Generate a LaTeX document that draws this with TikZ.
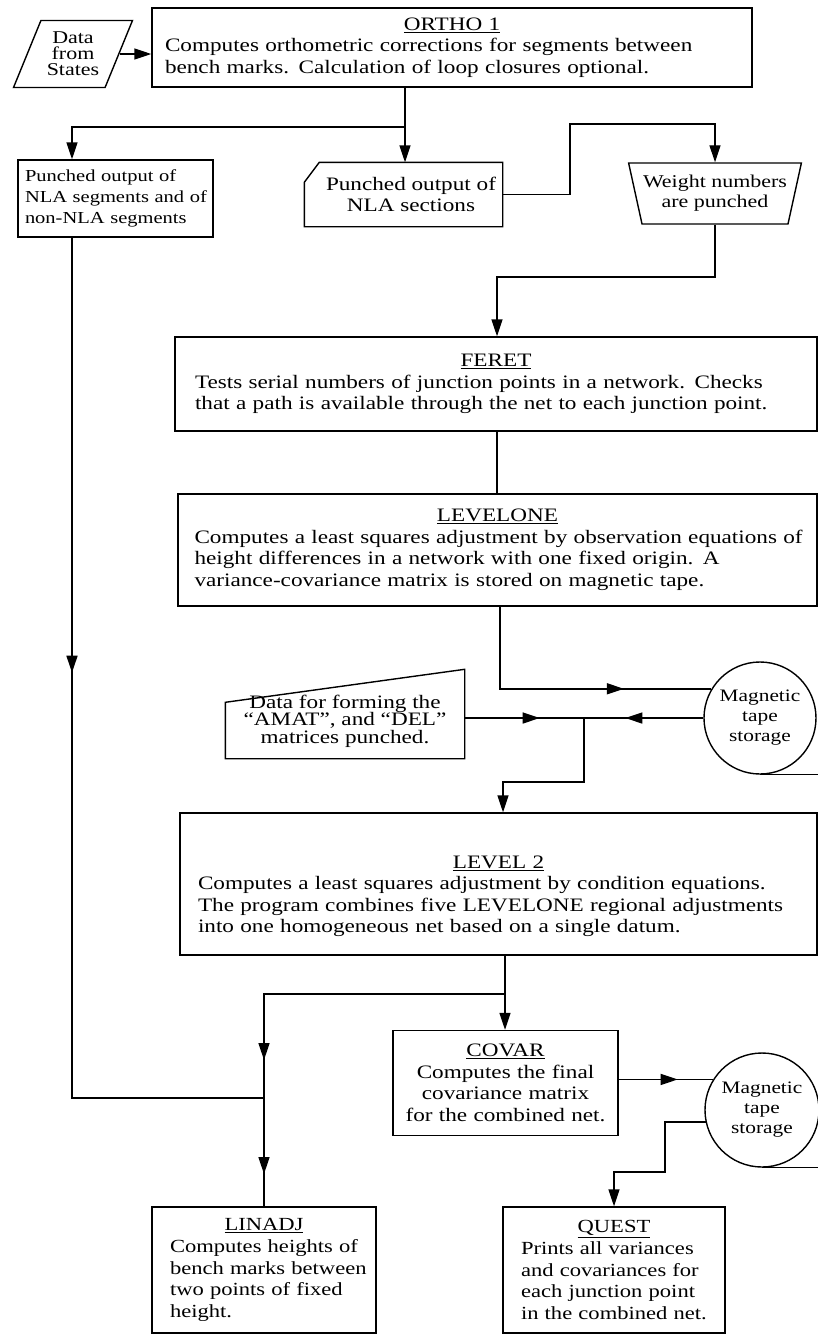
\documentclass[tikz,border=0pt]{standalone}
\usepackage{fontspec}
\setmainfont{Liberation Serif}[FakeStretch=1.22]
\usetikzlibrary{arrows.meta,shapes.geometric,decorations.markings}

\newcommand{\progname}[2][0pt]{{\centering\rule{0pt}{#1}\underline{#2}\par}}

\tikzset{flowtip/.tip={Triangle[length=17pt,width=11pt]}}

\begin{document}
\begin{tikzpicture}[
  x=1pt, y=-1pt, line width=1.4pt,
  font=\fontsize{19}{21.5}\selectfont,
  prog/.style={draw, align=left, inner sep=0pt},
  lowprog/.style={prog, font=\fontsize{18.5}{21.7}\selectfont},
  tape/.style={draw, circle, inner sep=0pt, align=center, font=\fontsize{17.5}{20}\selectfont},
  arr/.style={-flowtip},
  arrowat/.style={postaction={decorate, decoration={markings, mark=at position #1 with {\arrow{flowtip}}}}}
]
\useasboundingbox (0,0) rectangle (818,1334);

% input and first program
\node[draw, trapezium, trapezium left angle=63, trapezium right angle=117, trapezium stretches=true,
  minimum width=120pt, minimum height=67pt, inner sep=0pt, align=center,
  font=\fontsize{18}{16}\selectfont] (data) at (73,54) {Data\\from\\States};
\node[prog, minimum width=600pt, minimum height=79pt, text width=590pt] (ortho) at (452,47.5)
  {\progname{ORTHO 1}\leftskip=8pt Computes orthometric corrections for segments between\par
   bench marks.  Calculation of loop closures optional.\par};

% punched outputs
\node[prog, font=\fontsize{16.8}{21}\selectfont, minimum width=195pt, minimum height=77pt, text width=193pt] (lbox) at (115.5,198.5)
  {\leftskip=6pt Punched output of\par NLA segments and of\par non-NLA segments\par};
\node[align=center, inner sep=0pt, minimum width=182pt, minimum height=63pt] (card) at (411,194.5)
  {Punched output of\\NLA sections};
\draw (card.north west) -- (card.north east) -- (card.south east) -- ([xshift=-15pt]card.south west)
  -- ([xshift=-15pt,yshift=-20pt]card.north west) -- cycle;
\node[draw, trapezium, trapezium left angle=110, trapezium right angle=110, trapezium stretches=true,
  minimum width=173pt, minimum height=61pt, inner sep=0pt, align=center,
  font=\fontsize{18}{20}\selectfont] (weight) at (715,193.5) {Weight numbers\\are punched};

% network programs
\node[prog, minimum width=642pt, minimum height=94pt, text width=630pt] (feret) at (496,384)
  {\progname{FERET}\leftskip=14pt Tests serial numbers of junction points in a network.  Checks\par
   that a path is available through the net to each junction point.\par};
\node[prog, minimum width=639pt, minimum height=112pt, text width=630pt] (levelone) at (497.5,550)
  {\progname{LEVELONE}\leftskip=12pt Computes a least squares adjustment by observation equations of\par
   height differences in a network with one fixed origin.  A\par
   variance-covariance matrix is stored on magnetic tape.\par};
\node[tape, minimum size=112pt] (tape1) at (760,718) {Magnetic\\tape\\storage};
\node[inner sep=0pt, minimum width=238pt, minimum height=74pt, align=center,
  font=\fontsize{19}{17.5}\selectfont] (din) at (345,721)
  {Data for forming the\\“AMAT”, and “DEL”\\matrices punched.};
\draw (din.south west) -- (din.south east) -- ([yshift=14pt]din.north east)
  -- ([yshift=-19pt]din.north west) -- cycle;
\node[prog, minimum width=637pt, minimum height=142pt, text width=625pt] (level2) at (498.5,884)
  {\progname[37.5pt]{LEVEL 2}\leftskip=12pt Computes a least squares adjustment by condition equations.\par
   The program combines five LEVELONE regional adjustments\par
   into one homogeneous net based on a single datum.\par};

% final programs
\node[prog, align=center, minimum width=225pt, minimum height=105pt, text width=217pt] (covar) at (505.5,1083)
  {\progname{COVAR}Computes the final\\covariance matrix\\for the combined net.};
\node[tape, minimum size=114pt] (tape2) at (762,1110) {Magnetic\\tape\\storage};
\node[lowprog, minimum width=224pt, minimum height=126pt, text width=216pt] (linadj) at (264,1270)
  {\progname{LINADJ}\leftskip=14pt Computes heights of\par bench marks between\par two points of fixed\par height.\par};
\node[lowprog, minimum width=222pt, minimum height=126pt, text width=214pt] (quest) at (614,1270)
  {\progname{QUEST}\leftskip=14pt Prints all variances\par and covariances for\par each junction point\par in the combined net.\par};

% junction points
\coordinate (lx) at (72,0);
\coordinate (redge) at (818,0);
\coordinate (j1) at (405,127);
\coordinate (j2) at (570,124);
\coordinate (j3) at (497,277);
\coordinate (j4) at (500,689);
\coordinate (j5) at (584,718);
\coordinate (j6) at (503,782);
\coordinate (j7) at (505,994);
\coordinate (j9y) at (0,1098);
\coordinate (j9) at (linadj.north |- j9y);
\coordinate (j10) at (665,1172);

% connectors
\draw[arr] (data.east) -- (data.east -| ortho.west);
\draw (ortho.south -| j1) -- (j1);
\draw[arr] (j1) -- (card.north -| j1);
\draw[arr] (j1) -| (lbox.north -| lx);
\draw[arr] (card.east) -| (j2) -| (weight.north);
\draw[arr] (weight.south) |- (j3) -- (feret.north -| j3);
\draw (feret.south -| j3) -- (levelone.north -| j3);
\draw[arrowat=206pt] (levelone.south -| j4) |- (tape1.149);
\draw (tape1.south) -- (tape1.south -| redge);
\draw[arrowat=75pt] (din.east |- j5) -- (j5);
\draw[arrowat=78pt] (tape1.west) -- (j5);
\draw[arr] (j5) |- (j6) -- (level2.north -| j6);
\draw[arr] (level2.south -| j7) -- (covar.north -| j7);
\draw[arrowat=307pt, arrowat=421pt] (j7) -| (linadj.north);
\draw[arrowat=435pt] (lbox.south -| lx) |- (j9);
\draw[arrowat=59pt] (covar.east |- tape2.148) -- (tape2.148);
\draw (tape2.south) -- (tape2.south -| redge);
\draw[arr] (tape2.192) -| (j10) -| (quest.north);
\end{tikzpicture}
\end{document}
